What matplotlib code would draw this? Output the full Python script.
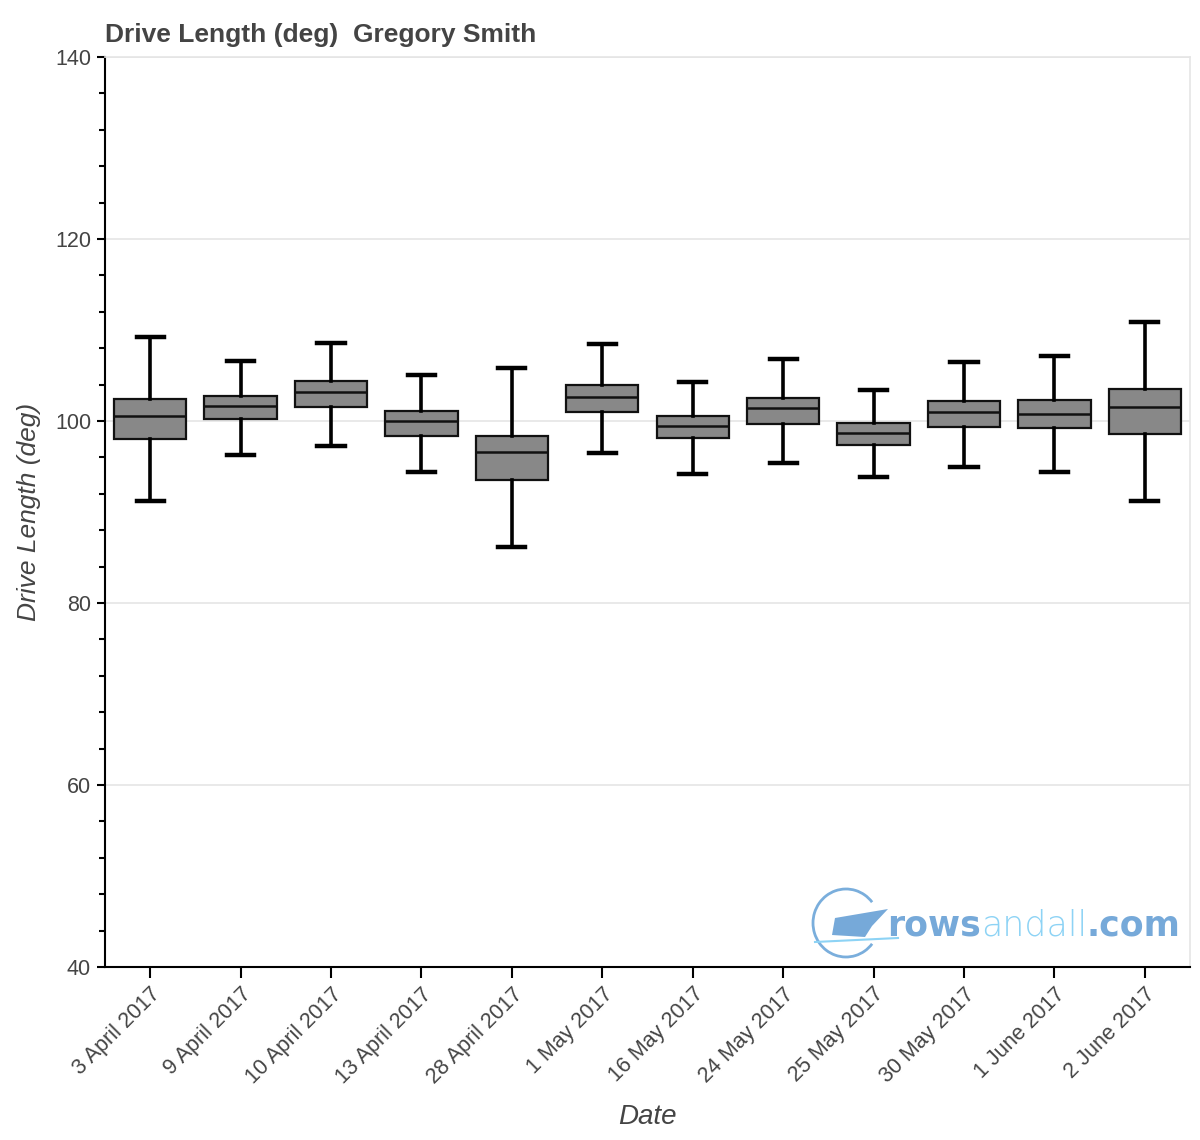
import matplotlib
matplotlib.use('Agg')
import matplotlib.pyplot as plt
from matplotlib.ticker import MultipleLocator
from matplotlib.patches import Arc, Polygon

plt.rcParams['font.family'] = ['Liberation Sans', 'DejaVu Sans']

# Daten: Tage und Boxplot-Kennzahlen
dates = ['3 April 2017', '9 April 2017', '10 April 2017', '13 April 2017',
         '28 April 2017', '1 May 2017', '16 May 2017', '24 May 2017',
         '25 May 2017', '30 May 2017', '1 June 2017', '2 June 2017']
whis_hi = [109.2, 106.6, 108.6, 105.1, 105.8, 108.5, 104.3, 106.8, 103.4, 106.5, 107.1, 110.85]
q3 = [102.4, 102.7, 104.4, 101.1, 98.4, 104.0, 100.5, 102.5, 99.8, 102.2, 102.3, 103.5]
median = [100.6, 101.6, 103.2, 100.0, 96.6, 102.6, 99.4, 101.4, 98.7, 101.0, 100.8, 101.5]
q1 = [98.0, 100.2, 101.5, 98.4, 93.5, 101.0, 98.1, 99.7, 97.4, 99.3, 99.2, 98.6]
whis_lo = [91.2, 96.3, 97.3, 94.4, 86.2, 96.5, 94.2, 95.4, 93.9, 94.9, 94.4, 91.2]

W, H = 1200, 1140
fig = plt.figure(figsize=(W / 100, H / 100), dpi=100)
ax = fig.add_axes([105 / W, 1 - 967 / H, 1085 / W, 910 / H])

stats = []
for i in range(len(dates)):
    stats.append({'med': median[i], 'q1': q1[i], 'q3': q3[i],
                  'whislo': whis_lo[i], 'whishi': whis_hi[i], 'label': dates[i]})

ax.bxp(stats, positions=range(len(dates)), widths=0.8, capwidths=0.3,
       showfliers=False, patch_artist=True,
       boxprops=dict(facecolor='#888888', edgecolor='#111111', linewidth=1.6),
       medianprops=dict(color='#111111', linewidth=1.8),
       whiskerprops=dict(color='black', linewidth=2.6),
       capprops=dict(color='black', linewidth=3.2))

ax.set_xlim(-0.5, len(dates) - 0.5)
ax.set_ylim(40, 140)
ax.yaxis.set_major_locator(MultipleLocator(20))
ax.yaxis.set_minor_locator(MultipleLocator(4))
ax.grid(axis='y', color='#e5e5e5', linewidth=1.2)
ax.set_axisbelow(True)

for s in ['left', 'bottom']:
    ax.spines[s].set_color('black')
    ax.spines[s].set_linewidth(1.5)
for s in ['top', 'right']:
    ax.spines[s].set_color('#e5e5e5')
    ax.spines[s].set_linewidth(1.2)

ax.tick_params(axis='y', which='major', direction='out', length=6, width=1.5,
               labelsize=15.5, labelcolor='#444444', pad=4)
ax.tick_params(axis='y', which='minor', direction='out', length=4, width=1.5)
ax.tick_params(axis='x', direction='out', length=8, width=1.5,
               labelsize=15.5, labelcolor='#444444', pad=4)
ax.set_xticks(range(len(dates)))
ax.set_xticklabels(dates, rotation=45, ha='right', rotation_mode='anchor')

ax.set_xlabel('Date', fontsize=20, style='italic', color='#444444', labelpad=12)
ax.set_ylabel('Drive Length (deg)', fontsize=19, style='italic', color='#444444', labelpad=10)
fig.text(105 / W, 1 - 35 / H, 'Drive Length (deg)  Gregory Smith', fontsize=19,
         fontweight='bold', color='#444444', ha='left', va='center')


# Wasserzeichen rowsandall.com
def px(x, y):
    return (x / W, 1 - y / H)


arc = Arc(px(846, 923), 66 / W, 68 / H, theta1=40, theta2=320,
          transform=fig.transFigure, color='#7aaedc', linewidth=2)
fig.add_artist(arc)
logo = Polygon([px(835, 918), px(888, 909), px(872, 926), px(865, 937), px(832, 935)],
               closed=True, transform=fig.transFigure, facecolor='#76a9d9', edgecolor='none')
fig.add_artist(logo)
fig.add_artist(plt.Line2D([815 / W, 898 / W], [1 - 942 / H, 1 - 938 / H],
                          transform=fig.transFigure, color='#8dd3f5', linewidth=1.5))
t1 = fig.text(887 / W, 1 - 935 / H, 'rows', fontsize=25, fontweight='bold',
              color='#76a9d9', family='DejaVu Sans', va='baseline')
t2 = plt.annotate('andall', xy=(1, 0), xycoords=t1, fontsize=25, color='#8dd3f5',
                  family='DejaVu Sans', fontweight='light', va='bottom')
t3 = plt.annotate('.com', xy=(1, 0), xycoords=t2, fontsize=25, fontweight='bold',
                  color='#76a9d9', family='DejaVu Sans', va='bottom')

fig.savefig('out.png', dpi=100)
